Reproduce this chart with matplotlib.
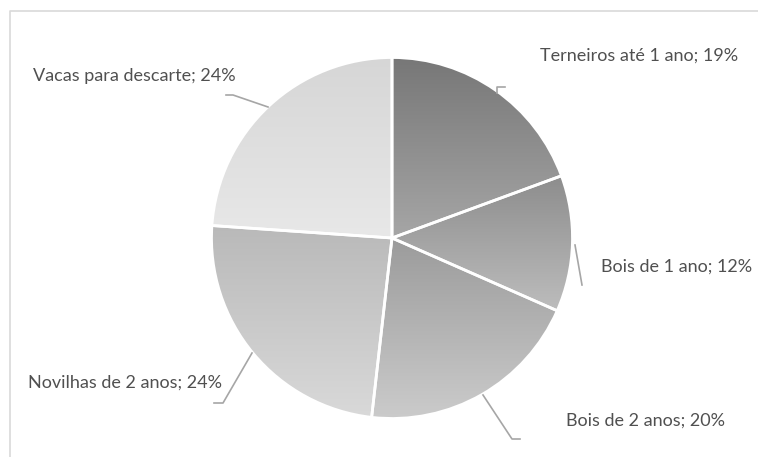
import matplotlib.pyplot as plt
from matplotlib.colors import to_rgb
import numpy as np

categories = ["Terneiros até 1 ano", "Bois de 1 ano", "Bois de 2 anos",
              "Novilhas de 2 anos", "Vacas para descarte"]
shares = [19.4, 12.2, 20.2, 24.3, 23.9]

# gradient colours (top, bottom) for each slice
grad_top = ["#777777", "#8d8d8d", "#9b9b9b", "#b9b9b9", "#d6d6d6"]
grad_bot = ["#a6a6a6", "#bdbdbd", "#cbcbcb", "#d9d9d9", "#e8e8e8"]

H = 457
W = 758

def py(y):
    # pixel row -> data y
    return H - y

fig = plt.figure(figsize=(W / 100, H / 100), dpi=100)
ax = fig.add_axes([0, 0, 1, 1])

wedges, _ = ax.pie(shares, center=(392, py(238)), radius=180.5, startangle=90,
                   counterclock=False, frame=True,
                   wedgeprops=dict(facecolor="none", edgecolor="white", linewidth=2))
ax.set_xlim(0, W)
ax.set_ylim(0, H)
ax.axis("off")

for w, c0, c1 in zip(wedges, grad_top, grad_bot):
    bb = w.get_path().get_extents()
    t = np.linspace(0, 1, 256)[:, None]
    img = (1 - t) * np.array(to_rgb(c0)) + t * np.array(to_rgb(c1))
    img = img[:, None, :]
    im = ax.imshow(img, extent=(bb.x0, bb.x1, bb.y0, bb.y1), origin="upper",
                   aspect="auto", zorder=1, interpolation="bilinear")
    im.set_clip_path(w)
    w.set_zorder(2)

# frame border (left and top visible)
ax.plot([10, 10, W], [0, py(11), py(11)], color="#d9d9d9", lw=1.2, zorder=0)

text_kw = dict(fontsize=13, color="#505050", family=["Lato", "DejaVu Sans"], va="baseline")
label_pos = [(540, 61, "left"), (601, 272, "left"), (566, 426, "left"),
             (222, 388, "right"), (33, 81, "left")]
for cat, s, (x, y, ha) in zip(categories, shares, label_pos):
    ax.text(x, py(y), f"{cat}; {round(s)}%", ha=ha, **text_kw)

# leader lines
line_kw = dict(color="#a6a6a6", lw=1.2, zorder=3)
ax.plot([497, 497, 505], [py(93), py(87), py(87)], **line_kw)
ax.plot([575, 582], [py(245), py(285)], **line_kw)
ax.plot([483, 512, 520], [py(395), py(439), py(439)], **line_kw)
ax.plot([252, 223, 214], [py(353), py(403), py(403)], **line_kw)
ax.plot([268, 233, 226], [py(107), py(95), py(95)], **line_kw)

fig.savefig("out.png", dpi=100, facecolor="white")
